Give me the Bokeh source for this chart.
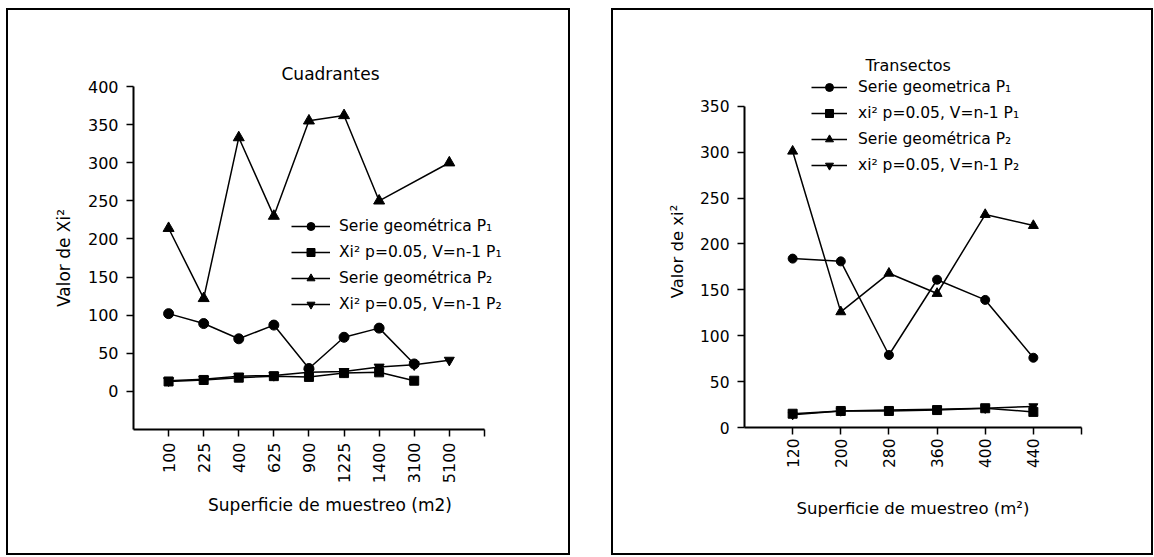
import math
from bokeh.plotting import figure
from bokeh.models import Range1d, FixedTicker, Legend, LegendItem, Spacer
from bokeh.layouts import row, column
from bokeh.embed import file_html
from bokeh.resources import INLINE

FONT = "DejaVu Sans"

# ---------------- data: Cuadrantes ----------------
cuad_labels = ["100", "225", "400", "625", "900", "1225", "1400", "3100", "5100"]
cuad_geo_p1 = [102, 89, 69, 87, 30, 71, 83, 36, None]
cuad_chi_p1 = [13, 15, 18, 20, 19, 24, 25, 14, None]
cuad_geo_p2 = [214, 122, 333, 230, 355, 362, 250, None, 300]
cuad_chi_p2 = [14, 16, 20, 21, 25, 26, 32, 35, 41]
cuad_yticks = [0, 50, 100, 150, 200, 250, 300, 350, 400]

# ---------------- data: Transectos ----------------
trans_labels = ["120", "200", "280", "360", "400", "440"]
trans_geo_p1 = [184, 181, 79, 161, 139, 76]
trans_chi_p1 = [15, 18, 18, 19, 21, 17]
trans_geo_p2 = [301, 126, 168, 146, 232, 220]
trans_chi_p2 = [14, 18, 19, 20, 21, 23]
trans_yticks = [0, 50, 100, 150, 200, 250, 300, 350]

cuad_names = ["Serie geométrica P\u2081", "Xi\u00b2 p=0.05, V=n-1 P\u2081",
              "Serie geométrica P\u2082", "Xi\u00b2 p=0.05, V=n-1 P\u2082"]
trans_names = ["Serie geometrica P\u2081", "xi\u00b2 p=0.05, V=n-1 P\u2081",
               "Serie geométrica P\u2082", "xi\u00b2 p=0.05, V=n-1 P\u2082"]

MARKERS = ["circle", "square", "triangle", "inverted_triangle"]


def build(labels, series, names, yticks, yrange, xend, ybounds, width, height,
          borders, title, title_offset, title_standoff, ylabel, xlabel,
          tick_fs, legend_fs, title_fs, axis_fs, legend_loc, glyph_w, lab_std,
          msizes, ylab_std, xlab_std, xlabel_std):
    n = len(labels)
    p = figure(width=width, height=height, output_backend="svg",
               toolbar_location=None,
               x_range=Range1d(0, xend), y_range=Range1d(*yrange),
               min_border_left=borders[0], min_border_right=borders[1],
               min_border_top=borders[2], min_border_bottom=borders[3])
    p.frame_align = False
    p.outline_line_color = None
    p.grid.visible = False
    p.background_fill_color = "white"
    p.border_fill_color = "white"

    p.title.text = title
    p.title.align = "left"
    p.title.offset = title_offset
    p.title.standoff = title_standoff
    p.title.text_font = FONT
    p.title.text_font_size = title_fs
    p.title.text_font_style = "normal"
    p.title.text_color = "black"

    xs = list(range(1, n + 1))
    p.xaxis.ticker = FixedTicker(ticks=xs + [n + 1])
    overrides = {x: lab for x, lab in zip(xs, labels)}
    overrides[n + 1] = ""
    p.xaxis.major_label_overrides = overrides
    p.xaxis.major_label_orientation = math.pi / 2
    p.xaxis.bounds = (0, n + 1)
    p.yaxis.ticker = FixedTicker(ticks=yticks)
    p.yaxis.bounds = ybounds
    p.xaxis.minor_tick_line_color = None
    p.yaxis.minor_tick_line_color = None

    for ax in (p.xaxis[0], p.yaxis[0]):
        ax.axis_line_width = 2
        ax.axis_line_color = "black"
        ax.major_tick_line_width = 1.5
        ax.major_tick_line_color = "black"
        ax.major_tick_in = 0
        ax.major_tick_out = 7
        ax.major_label_text_font = FONT
        ax.major_label_text_font_size = tick_fs
        ax.major_label_text_color = "black"
        ax.axis_label_text_font = FONT
        ax.axis_label_text_font_size = axis_fs
        ax.axis_label_text_font_style = "normal"
        ax.axis_label_text_color = "black"
    p.yaxis.major_label_standoff = 8
    p.xaxis.major_label_standoff = xlabel_std
    p.yaxis.axis_label = ylabel
    p.xaxis.axis_label = xlabel
    p.yaxis.axis_label_standoff = ylab_std
    p.xaxis.axis_label_standoff = xlab_std

    items = []
    for vals, name, mk, ms in zip(series, names, MARKERS, msizes):
        px = [x for x, v in zip(xs, vals) if v is not None]
        py = [v for v in vals if v is not None]
        lr = p.line(px, py, line_color="black", line_width=1.5)
        sr = p.scatter(px, py, marker=mk, size=ms, fill_color="black",
                       line_color="black")
        items.append(LegendItem(label=name, renderers=[lr, sr]))

    leg = Legend(items=items, location=legend_loc, border_line_color=None,
                 background_fill_alpha=0, padding=0, margin=0, spacing=6,
                 glyph_width=glyph_w, glyph_height=20, label_height=20,
                 label_standoff=lab_std, label_text_font=FONT,
                 label_text_font_size=legend_fs, label_text_color="black")
    p.add_layout(leg)
    return p


p1 = build(cuad_labels, [cuad_geo_p1, cuad_chi_p1, cuad_geo_p2, cuad_chi_p2],
           cuad_names, cuad_yticks, (-50, 400), 11.2, (-50, 400), 560, 543,
           (125, 42, 76, 124),
           "Cuadrantes", 148, 5, "Valor de Xi\u00b2",
           "Superficie de muestreo (m2)", "16px", "15.5px", "17px", "17px",
           (158, 115), 39, 9, [10, 9, 11, 10], 11, 9, 6)

p2 = build(trans_labels, [trans_geo_p1, trans_chi_p1, trans_geo_p2, trans_chi_p2],
           trans_names, trans_yticks, (0, 383.5), 7, (0, 350), 538, 543,
           (131, 70, 65, 126),
           "Transectos", 121, 2, "Valor de xi\u00b2",
           "Superficie de muestreo (m\u00b2)", "15.5px", "15.5px", "16px", "16.5px",
           (67, 252), 36, 11, [9, 9, 10, 9], 10, 28, 4)

box1 = column(p1, styles={"border": "2px solid black"})
box2 = column(p2, styles={"border": "2px solid black"})
layout = column(Spacer(height=8),
                row(Spacer(width=6), box1, Spacer(width=41), box2))
open("out.html", "w").write(file_html(layout, INLINE))
